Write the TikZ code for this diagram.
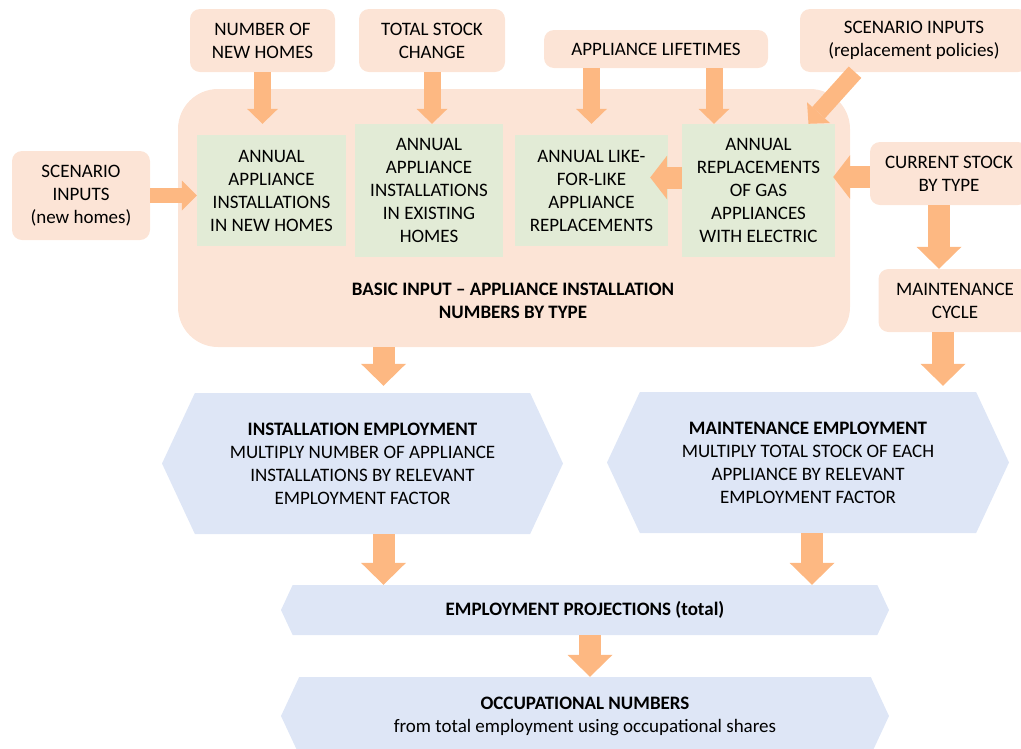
\documentclass[tikz,border=0pt]{standalone}
\usepackage{fontspec}
\setmainfont{Carlito}
\usetikzlibrary{arrows.meta,shapes.symbols,calc}
\definecolor{boxor}{HTML}{FCE4D6}
\definecolor{boxgr}{HTML}{E2EBD6}
\definecolor{boxbl}{HTML}{DEE6F6}
\definecolor{arror}{HTML}{FDB882}
\newcommand{\fs}{\fontsize{19}{23}\selectfont}
\begin{document}
\begin{tikzpicture}[x=1pt,y=-1pt, font=\fs,
	inp/.style={fill=boxor,rounded corners=10pt,align=center,inner sep=0pt},
	calcbox/.style={fill=boxgr,align=center,inner sep=0pt},
	hexa/.style={shape=signal,signal to=east and west,signal pointer angle=130,fill=boxbl,align=center,inner sep=0pt},
	arrS/.style={draw=arror,line width=17pt,-{Triangle[width=31pt,length=15pt,line width=0pt]}},
	arrN/.style={draw=arror,line width=15pt,-{Triangle[width=30pt,length=15pt,line width=0pt]}},
	arrM/.style={draw=arror,line width=22pt,-{Triangle[width=44pt,length=17pt,line width=0pt]}},
	arrL/.style={draw=arror,line width=22pt,-{Triangle[width=45pt,length=22pt,line width=0pt]}}]
	\useasboundingbox (0,0) rectangle (1021,748);
	% input boxes
	\node[inp,minimum width=672pt,minimum height=258pt,rounded corners=40pt] (big) at (514,218) {};
	\node[font=\bfseries\fs,align=center] (biglbl) at (513,301) {BASIC INPUT – APPLIANCE INSTALLATION\\NUMBERS BY TYPE};
	\node[inp,minimum width=145pt,minimum height=63pt] (newh) at (262.5,40.5) {NUMBER OF\\NEW HOMES};
	\node[inp,minimum width=146pt,minimum height=63pt] (stock) at (432,40.5) {TOTAL STOCK\\CHANGE};
	\node[inp,minimum width=224pt,minimum height=38pt] (life) at (656,49) {APPLIANCE LIFETIMES};
	\node[inp,minimum width=228pt,minimum height=63pt] (rep) at (914,40.5) {SCENARIO INPUTS\\(replacement policies)};
	\node[inp,minimum width=138pt,minimum height=89pt] (scen) at (81,195.5) {SCENARIO\\INPUTS\\(new homes)};
	\node[inp,minimum width=158pt,minimum height=63pt] (cur) at (949,173.5) {CURRENT STOCK\\BY TYPE};
	\node[inp,minimum width=153pt,minimum height=63pt] (maint) at (955,300.5) {MAINTENANCE\\CYCLE};
	% annual numbers
	\node[calcbox,minimum width=149pt,minimum height=111pt] (g1) at (271.5,190.5) {ANNUAL\\APPLIANCE\\INSTALLATIONS\\IN NEW HOMES};
	\node[calcbox,minimum width=148pt,minimum height=133pt] (g2) at (429,190.5) {ANNUAL\\APPLIANCE\\INSTALLATIONS\\IN EXISTING\\HOMES};
	\node[calcbox,minimum width=153pt,minimum height=111pt] (g3) at (591.5,190.5) {ANNUAL LIKE-\\FOR-LIKE\\APPLIANCE\\REPLACEMENTS};
	\node[calcbox,minimum width=153pt,minimum height=133pt] (g4) at (758.5,190.5) {ANNUAL\\REPLACEMENTS\\OF GAS\\APPLIANCES\\WITH ELECTRIC};
	% employment
	\node[hexa,minimum width=401pt,minimum height=141pt] (hex1) at (362.5,463.5) {\textbf{INSTALLATION EMPLOYMENT}\\MULTIPLY NUMBER OF APPLIANCE\\INSTALLATIONS BY RELEVANT\\EMPLOYMENT FACTOR};
	\node[hexa,minimum width=402pt,minimum height=141pt] (hex2) at (808,462.5) {\textbf{MAINTENANCE EMPLOYMENT}\\MULTIPLY TOTAL STOCK OF EACH\\APPLIANCE BY RELEVANT\\EMPLOYMENT FACTOR};
	\node[hexa,minimum width=608pt,minimum height=50pt] (proj) at (585,610) {\textbf{EMPLOYMENT PROJECTIONS (total)}};
	\node[hexa,minimum width=608pt,minimum height=78pt] (occ) at (585,716) {\textbf{OCCUPATIONAL NUMBERS}\\from total employment using occupational shares};
	% arrows
	\draw[arrS] (newh.south) -- (newh.south |- g2.north);
	\draw[arrS] (stock.south) -- (stock.south |- g2.north);
	\draw[arrS] (life.south -| g3.north) -- (g3.north |- g4.north);
	\draw[arrS] ($(life.south)+(58,0)$) -- ($(life.south |- g4.north)+(58,0)$);
	\draw[arrS] ($(rep.south)+(-59,0)$) -- ($(g4.north)+(50,0)$);
	\draw[arrN] (scen.east) -- (scen.east -| g1.west);
	\draw[arrM] ($(cur.west)+(0,3.5)$) -- ($(cur.west -| g4.east)+(-2,3.5)$);
	\draw[arrM] ($(g4.west)+(0,-13)$) -- ($(g3.east)+(-18,-13)$);
	\draw[arrL] ($(cur.south)+(-10,0)$) -- ($(cur.south |- maint.north)+(-10,0)$);
	\draw[arrL] ($(big.south -| hex1.north)+(21,0)$) -- ($(hex1.north)+(21,-7)$);
	\draw[arrL] ($(maint.south)+(-12,0)$) -- ($(hex2.north)+(135,-6)$);
	\draw[arrL] ($(hex1.south)+(21,0)$) -- ($(hex1.south |- proj.north)+(21,0)$);
	\draw[arrL] ($(hex2.south)+(4,0)$) -- ($(hex2.south |- proj.north)+(4,0)$);
	\draw[arrL] ($(proj.south)+(5,0)$) -- ($(proj.south |- occ.north)+(5,0)$);
\end{tikzpicture}
\end{document}
